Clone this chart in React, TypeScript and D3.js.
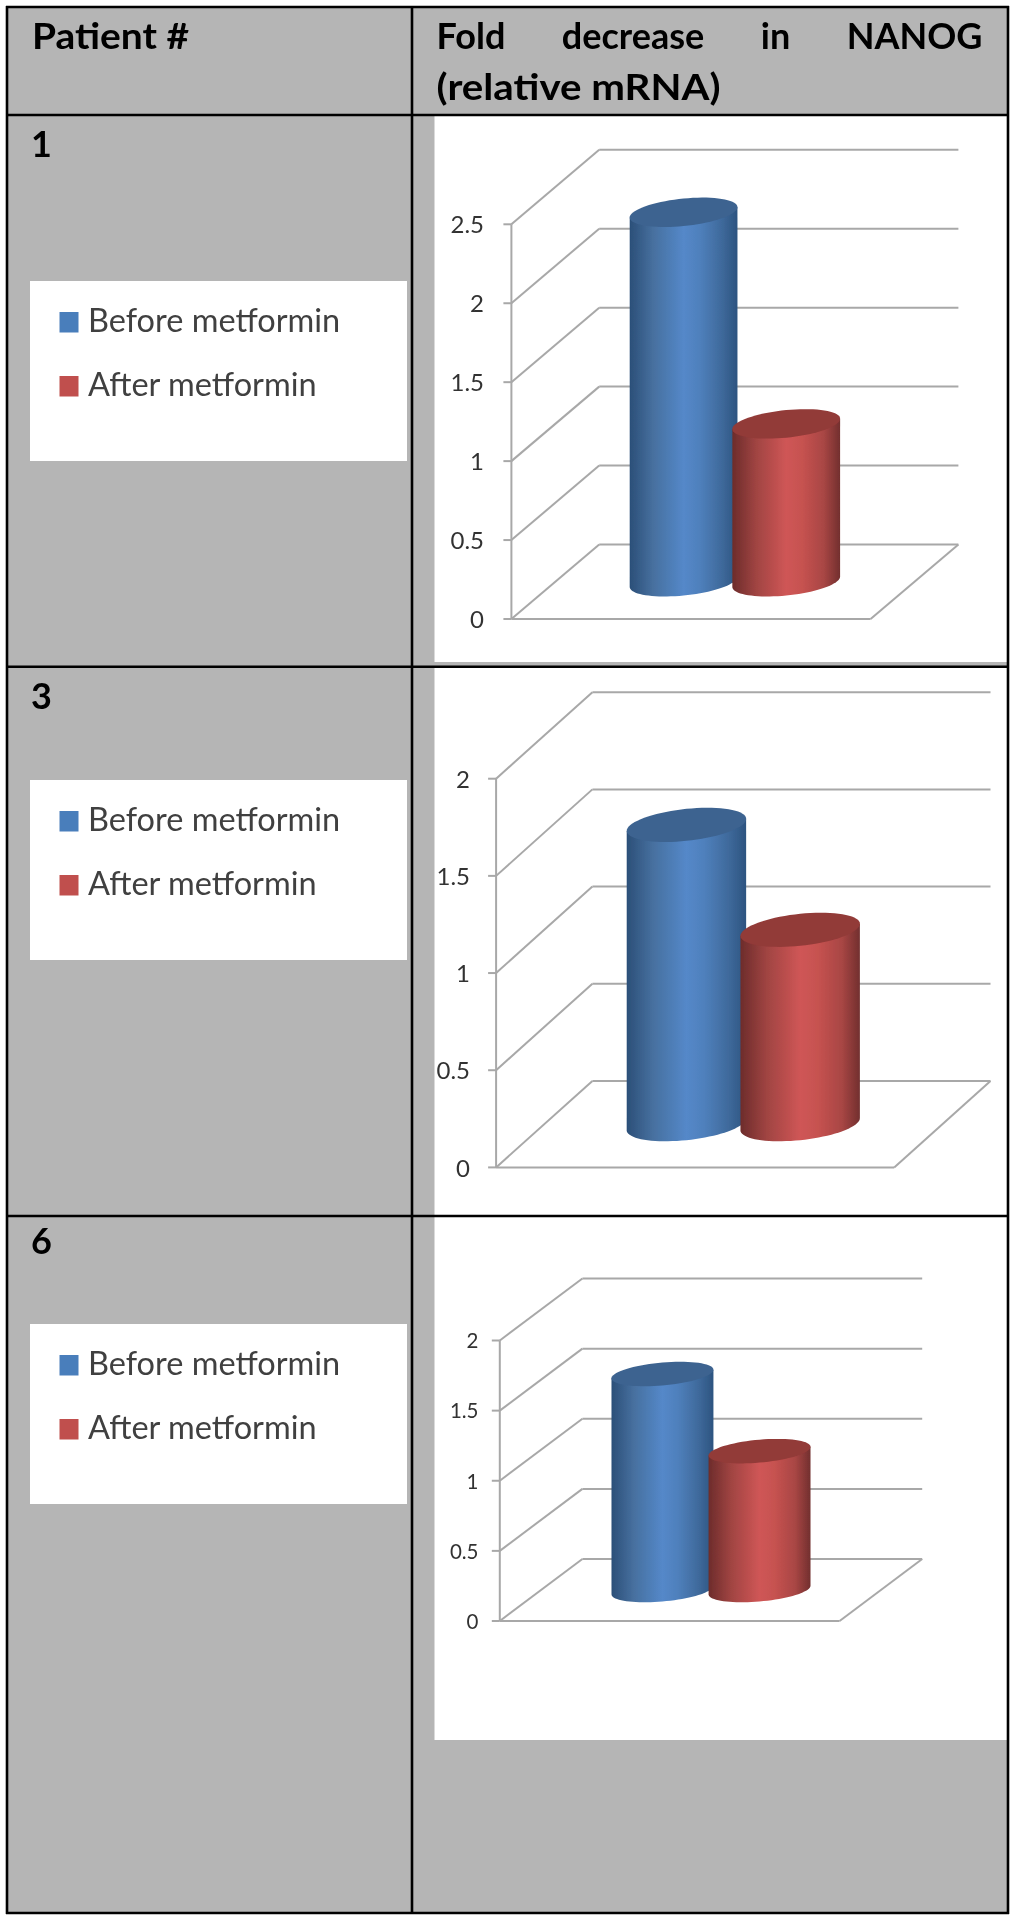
import React, { useEffect, useRef } from "react";
import * as d3 from "d3";

const patients = ["1", "3", "6"];
const seriesNames = ["Before metformin", "After metformin"];
const beforeValues = [2.34, 1.54, 1.54];
const afterValues = [1.0, 1.0, 0.99];
const axisMaxes = [2.5, 2, 2];
const headerLeft = "Patient #";
const headerRightFirst = "Fold decrease in NANOG";
const headerRightSecond = "(relative mRNA)";

// pixel layout of each row of the table
const panels = [
  { top: 115, whiteTop: 115, whiteBottom: 662, labelY: 157, legendTop: 281, x0: 511.4, x1: 870.6, y0: 619, yMax: 224.3, dx: 87.8, dy: 74.5, font: 24, tickEnd: 484 },
  { top: 666.7, whiteTop: 667, whiteBottom: 1215, labelY: 709, legendTop: 780, x0: 496.1, x1: 894.2, y0: 1167.4, yMax: 778.7, dx: 96.3, dy: 86.5, font: 24, tickEnd: 470 },
  { top: 1216, whiteTop: 1217, whiteBottom: 1740, labelY: 1254, legendTop: 1324, x0: 499.8, x1: 839.6, y0: 1621, yMax: 1340.5, dx: 82.6, dy: 62, font: 20.5, tickEnd: 478.5 },
];

const GREY = "#b5b5b5";
const GRID = "#a8a8a8";
const colors = [
  { swatch: "#4a7ebb", top: "#3d6390", stops: ["#2b4f78", "#47709f", "#5488c9", "#4f80bc", "#3f6a9c", "#2d5480"] },
  { swatch: "#c0504d", top: "#923a38", stops: ["#6d2c2b", "#a04442", "#cf5656", "#c65250", "#a84644", "#722f2e"] },
];
const stopOffsets = [0, 0.22, 0.5, 0.65, 0.85, 1];

// cylinder outline: straight sides plus the front half of a tilted base ellipse
function cylinderBody(cx: number, yTop: number, yBase: number, a: number, b: number, tilt: number) {
  const arc = d3.range(0, 41).map((i) => {
    const t = Math.PI - (i / 40) * Math.PI;
    return [cx + a * Math.cos(t), yBase + b * Math.sin(t) - tilt * Math.cos(t)] as [number, number];
  });
  const pts: [number, number][] = [[cx - a, yTop + tilt], ...arc, [cx + a, yTop - tilt]];
  return d3.line()(pts) + "Z";
}

function cylinderTop(cx: number, y: number, a: number, b: number, tilt: number) {
  const pts = d3.range(0, 72).map((i) => {
    const t = (i / 72) * 2 * Math.PI;
    return [cx + a * Math.cos(t), y + b * Math.sin(t) - tilt * Math.cos(t)] as [number, number];
  });
  return d3.line()(pts) + "Z";
}

const App = () => {
  const ref = useRef<SVGSVGElement>(null);

  useEffect(() => {
    const svg = d3.select(ref.current);
    svg.selectAll("*").remove();

    const defs = svg.append("defs");
    const soft = defs.append("filter").attr("id", "soft");
    soft.append("feGaussianBlur").attr("stdDeviation", 0.6);
    colors.forEach((c, i) => {
      const g = defs.append("linearGradient").attr("id", `body${i}`);
      c.stops.forEach((s, j) => g.append("stop").attr("offset", stopOffsets[j]).attr("stop-color", s));
    });

    const root = svg.append("g").attr("filter", "url(#soft)");
    const font = "Lato, sans-serif";

    // table background
    root.append("rect").attr("x", 7).attr("y", 7).attr("width", 1001).attr("height", 1906).attr("fill", GREY);

    // header text
    root.append("text").text(headerLeft)
      .attr("x", 32).attr("y", 49).attr("font-family", font).attr("font-weight", 700)
      .attr("font-size", 36).attr("textLength", 157).attr("lengthAdjust", "spacingAndGlyphs");
    const first = root.append("text").text(headerRightFirst)
      .attr("x", 436.5).attr("y", 49).attr("font-family", font).attr("font-weight", 700)
      .attr("font-size", 36);
    const firstNode = first.node() as SVGTextElement;
    first.attr("word-spacing", (546 - firstNode.getComputedTextLength()) / 3);
    root.append("text").text(headerRightSecond)
      .attr("x", 436.5).attr("y", 100).attr("font-family", font).attr("font-weight", 700)
      .attr("font-size", 36).attr("textLength", 284).attr("lengthAdjust", "spacingAndGlyphs");

    panels.forEach((p, i) => {
      const row = root.append("g");
      row.append("text").text(patients[i])
        .attr("x", 31).attr("y", p.labelY).attr("font-family", font).attr("font-weight", 700).attr("font-size", 36);

      // legend box
      row.append("rect").attr("x", 30).attr("y", p.legendTop).attr("width", 377).attr("height", 180).attr("fill", "#fff");
      seriesNames.forEach((name, s) => {
        const yy = p.legendTop + 31 + s * 64;
        row.append("rect").attr("x", 59.5).attr("y", yy).attr("width", 19).attr("height", 20.5).attr("fill", colors[s].swatch);
        row.append("text").text(name)
          .attr("x", 88).attr("y", yy + 20).attr("font-family", font).attr("font-size", 32.5).attr("fill", "#404040");
      });

      // chart background
      row.append("rect").attr("x", 434.5).attr("y", p.whiteTop).attr("width", 573).attr("height", p.whiteBottom - p.whiteTop).attr("fill", "#fff");

      const y = d3.scaleLinear().domain([0, axisMaxes[i]]).range([p.y0, p.yMax]);
      const ticks = d3.range(0, axisMaxes[i] + 0.01, 0.5);
      const x = d3.scaleBand<string>().domain(seriesNames)
        .range([p.x0 + p.dx / 2, p.x1 + p.dx / 2]).paddingInner(0).paddingOuter(0.75);

      // walls and gridlines
      const grid = row.append("g").attr("stroke", GRID).attr("stroke-width", 2).attr("fill", "none");
      grid.selectAll(".diag").data(ticks).join("line").attr("class", "diag")
        .attr("x1", p.x0).attr("x2", p.x0 + p.dx)
        .attr("y1", (d) => y(d)).attr("y2", (d) => y(d) - p.dy);
      grid.selectAll(".back").data(ticks).join("line").attr("class", "back")
        .attr("x1", p.x0 + p.dx).attr("x2", p.x1 + p.dx)
        .attr("y1", (d) => y(d) - p.dy).attr("y2", (d) => y(d) - p.dy);
      grid.selectAll(".tick").data(ticks).join("line").attr("class", "tick")
        .attr("x1", p.x0 - 8).attr("x2", p.x0)
        .attr("y1", (d) => y(d)).attr("y2", (d) => y(d));
      grid.append("line").attr("x1", p.x0).attr("x2", p.x0).attr("y1", y(0)).attr("y2", y(axisMaxes[i]));
      grid.append("line").attr("x1", p.x0).attr("x2", p.x1).attr("y1", y(0)).attr("y2", y(0));
      grid.append("line").attr("x1", p.x1).attr("x2", p.x1 + p.dx).attr("y1", y(0)).attr("y2", y(0) - p.dy);

      row.append("g").selectAll("text").data(ticks).join("text")
        .text((d) => String(d))
        .attr("x", p.tickEnd).attr("y", (d) => y(d) + p.font * 0.38)
        .attr("text-anchor", "end").attr("font-family", font).attr("font-size", p.font).attr("fill", "#333");

      // cylinders
      const values = [beforeValues[i], afterValues[i]];
      const a = x.bandwidth() * 0.525;
      const b = p.dy * 0.185;
      const tilt = p.dy * 0.07;
      const bars = row.append("g").selectAll("g").data(seriesNames).join("g");
      bars.append("path")
        .attr("d", (d, s) => cylinderBody(x(d)! + x.bandwidth() / 2, y(values[s]) - p.dy / 2, y(0) - p.dy / 2, a, b, tilt))
        .attr("fill", (d, s) => `url(#body${s})`);
      bars.append("path")
        .attr("d", (d, s) => cylinderTop(x(d)! + x.bandwidth() / 2, y(values[s]) - p.dy / 2, a, b, tilt))
        .attr("fill", (d, s) => colors[s].top);
    });

    // table rules
    const rules = svg.append("g").attr("stroke", "#000").attr("stroke-width", 2.6);
    const hs = [7, ...panels.map((p) => p.top), 1913];
    rules.selectAll(".h").data(hs).join("line").attr("class", "h")
      .attr("x1", 6).attr("x2", 1009).attr("y1", (d) => d).attr("y2", (d) => d);
    rules.selectAll(".v").data([7, 412, 1008]).join("line").attr("class", "v")
      .attr("x1", (d) => d).attr("x2", (d) => d).attr("y1", 6).attr("y2", 1914);
  }, []);

  return (
    <svg
      ref={ref}
      width={1016}
      height={1920}
      style={{ position: "absolute", left: 0, top: 0, background: "#fff" }}
    />
  );
};

export default App;
